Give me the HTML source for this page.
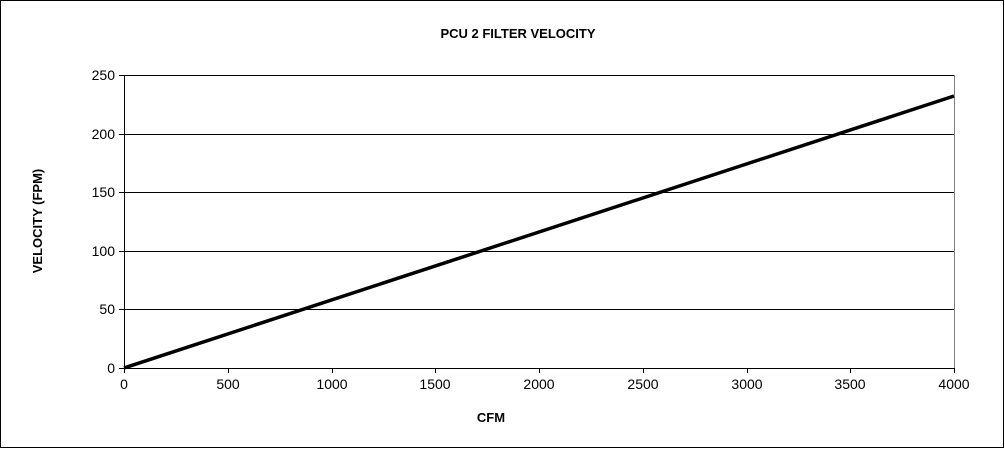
<!DOCTYPE html>
<html><head><style>body{margin:0;background:#fff}svg{display:block}</style></head><body>
<svg width="1005" height="449" xmlns="http://www.w3.org/2000/svg" font-family="Liberation Sans, Arial, sans-serif">
<rect x="0.5" y="0.5" width="1003" height="447" fill="#fff" stroke="#000"/>
<text x="518" y="38" font-size="13" font-weight="bold" text-anchor="middle">PCU 2 FILTER VELOCITY</text>
<g stroke="#000" stroke-width="1">
<line x1="124" y1="75.5" x2="954" y2="75.5"/>
<line x1="124" y1="134.5" x2="954" y2="134.5"/>
<line x1="124" y1="192.5" x2="954" y2="192.5"/>
<line x1="124" y1="251.5" x2="954" y2="251.5"/>
<line x1="124" y1="309.5" x2="954" y2="309.5"/>
</g>
<line x1="954.5" y1="75" x2="954.5" y2="368" stroke="#808080"/>
<line x1="124.5" y1="75" x2="124.5" y2="373" stroke="#000"/>
<line x1="119" y1="368.5" x2="954" y2="368.5" stroke="#000"/>
<g stroke="#000">
<line x1="119" y1="75.5" x2="124" y2="75.5"/><line x1="119" y1="134.5" x2="124" y2="134.5"/><line x1="119" y1="192.5" x2="124" y2="192.5"/><line x1="119" y1="251.5" x2="124" y2="251.5"/><line x1="119" y1="309.5" x2="124" y2="309.5"/>
<line x1="228.5" y1="368" x2="228.5" y2="373"/><line x1="332.5" y1="368" x2="332.5" y2="373"/><line x1="435.5" y1="368" x2="435.5" y2="373"/><line x1="539.5" y1="368" x2="539.5" y2="373"/><line x1="643.5" y1="368" x2="643.5" y2="373"/><line x1="747.5" y1="368" x2="747.5" y2="373"/><line x1="850.5" y1="368" x2="850.5" y2="373"/><line x1="954.5" y1="368" x2="954.5" y2="373"/>
</g>
<g font-size="14" text-anchor="end">
<text x="115" y="80">250</text><text x="115" y="139">200</text><text x="115" y="197">150</text><text x="115" y="256">100</text><text x="115" y="314">50</text><text x="115" y="373">0</text>
</g>
<g font-size="14" text-anchor="middle">
<text x="124" y="389">0</text><text x="228" y="389">500</text><text x="332" y="389">1000</text><text x="435" y="389">1500</text><text x="539" y="389">2000</text><text x="643" y="389">2500</text><text x="747" y="389">3000</text><text x="850" y="389">3500</text><text x="954" y="389">4000</text>
</g>
<text x="491" y="422" font-size="13" font-weight="bold" text-anchor="middle">CFM</text>
<text transform="translate(42,221) rotate(-90)" font-size="13" font-weight="bold" text-anchor="middle">VELOCITY (FPM)</text>
<line x1="124" y1="368" x2="954" y2="96" stroke="#000" stroke-width="3.5"/>
</svg>
</body></html>
